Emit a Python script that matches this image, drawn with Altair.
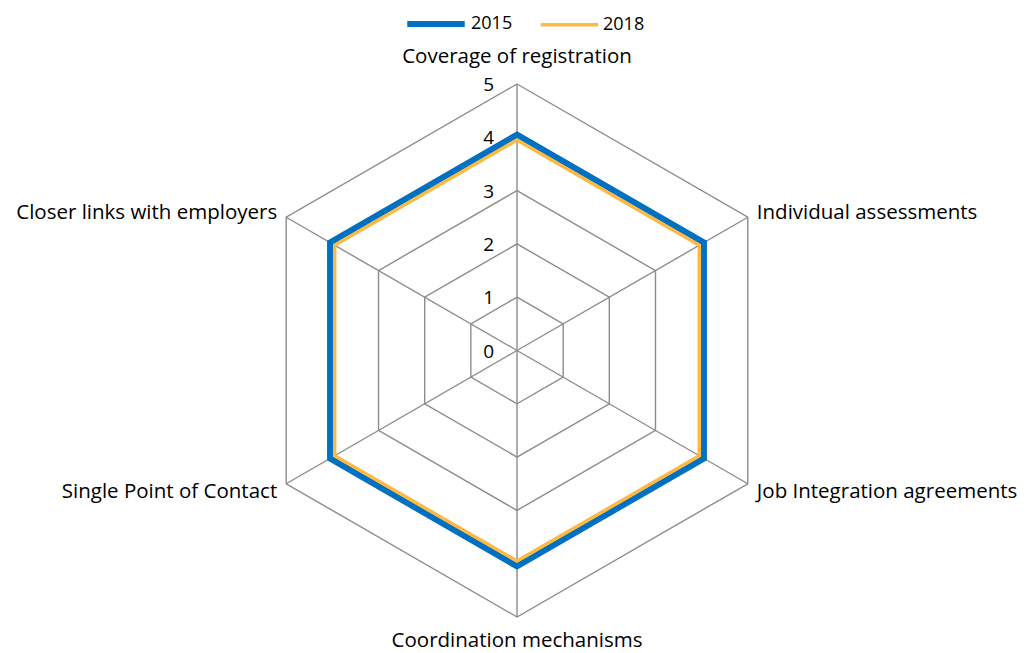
import altair as alt
import pandas as pd

categories = [
    "Coverage of registration",
    "Individual assessments",
    "Job Integration agreements",
    "Coordination mechanisms",
    "Single Point of Contact",
    "Closer links with employers",
]
series_names = ["2015", "2018"]
v2015 = [4.05, 4.05, 4.05, 4.05, 4.05, 4.05]
v2018 = [3.95, 3.95, 3.95, 3.95, 3.95, 3.95]
levels = [0, 1, 2, 3, 4, 5]
max_level = 5

FONT = "Open Sans"
FS = 20.5
FS_NUM = 19
FS_LEG = 18
GRID = "#8c8c8c"

rows = []
for s, vals in zip(series_names, [v2015, v2018]):
    for i, (c, v) in enumerate(zip(categories, vals)):
        rows.append({"series": s, "idx": i, "cat": c, "value": v})
df = pd.DataFrame(rows)

grid_df = pd.DataFrame(
    [{"level": l, "idx": i} for l in levels if l > 0 for i in range(len(categories))]
)
spoke_df = pd.DataFrame([{"idx": i, "cat": c, "r": max_level} for i, c in enumerate(categories)])
lvl_df = pd.DataFrame({"level": levels})

ux = 53.3
cx, cy = 509.0, 342.5
W, H = 1013, 645
xdom = [-cx / ux, (W - cx) / ux]
ydom = [-(H - cy) / ux, cy / ux]
xs = alt.Scale(domain=xdom, nice=False, zero=False)
ys = alt.Scale(domain=ydom, nice=False, zero=False)

def X(f):
    return alt.X(f, type="quantitative", scale=xs, axis=None)

def Y(f):
    return alt.Y(f, type="quantitative", scale=ys, axis=None)

ang = "datum.idx * PI / 3"

grid = alt.Chart(grid_df).transform_calculate(
    gx=f"datum.level * sin({ang})", gy=f"datum.level * cos({ang})"
).mark_line(interpolate="linear-closed", color=GRID, strokeWidth=1.4).encode(
    x=X("gx"), y=Y("gy"), detail="level:N", order="idx:Q"
)

spokes = alt.Chart(spoke_df).transform_calculate(
    x0="0", y0="0", sx=f"datum.r * sin({ang})", sy=f"datum.r * cos({ang})"
).mark_rule(color=GRID, strokeWidth=1.4).encode(
    x=X("x0"), y=Y("y0"), x2="sx:Q", y2="sy:Q"
)

lines = alt.Chart(df).transform_calculate(
    px=f"datum.value * sin({ang})", py=f"datum.value * cos({ang})"
).mark_line(interpolate="linear-closed", strokeJoin="miter").encode(
    x=X("px"), y=Y("py"),
    color=alt.Color("series:N", scale=alt.Scale(domain=series_names, range=["#0070C0", "#FDB944"]),
                    legend=alt.Legend(title=None, orient="none", legendX=396, legendY=-16,
                                      direction="horizontal", symbolType="stroke", symbolSize=3300,
                                      labelFont=FONT, labelFontSize=FS_LEG, labelColor="#000",
                                      columnPadding=20, labelOffset=3)),
    strokeWidth=alt.StrokeWidth("series:N", scale=alt.Scale(domain=series_names, range=[6, 3.5]),
                                legend=None),
    order="idx:Q",
)

lvl_text = alt.Chart(lvl_df).transform_calculate(lx="0").mark_text(
    align="right", baseline="middle", dx=-23, dy=1, font=FONT, fontSize=FS_NUM, color="#000"
).encode(x=X("lx"), y=Y("level"), text="level:Q")

offsets = [
    ("center", 0, -27),
    ("left", 9, -4),
    ("left", 9, 8),
    ("center", 0, 24),
    ("right", -9, 8),
    ("right", -9, -4),
]
label_layers = []
for i, (al, dx, dy) in enumerate(offsets):
    label_layers.append(
        alt.Chart(spoke_df).transform_filter(f"datum.idx == {i}").transform_calculate(
            sx=f"datum.r * sin({ang})", sy=f"datum.r * cos({ang})"
        ).mark_text(align=al, baseline="middle", dx=dx, dy=dy, font=FONT, fontSize=FS, color="#000")
        .encode(x=X("sx"), y=Y("sy"), text="cat:N")
    )

chart = alt.layer(grid, spokes, lines, lvl_text, *label_layers).properties(
    width=W, height=H, autosize=alt.AutoSizeParams(type="none"), padding=0,
    background="white",
).configure_view(strokeWidth=0, stroke=None)

chart.save("out.html", embed_options={"renderer": "svg", "actions": False})
